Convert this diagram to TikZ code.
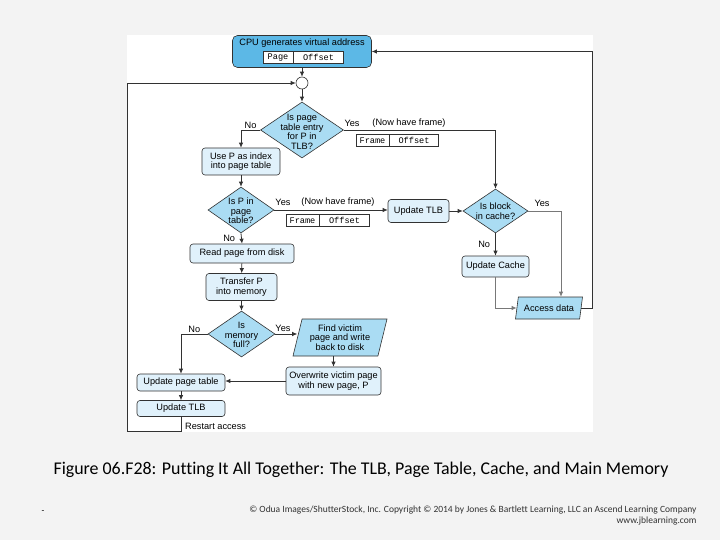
\documentclass[tikz,border=0pt]{standalone}
\usepackage{fontspec}
\setmainfont{Liberation Sans}
\setmonofont{Liberation Mono}
\newfontfamily\capfont[Ligatures=NoCommon]{Carlito}
\usetikzlibrary{positioning,arrows.meta,shapes.geometric}
\definecolor{CpuBlue}{RGB}{92,184,230}
\definecolor{DiaFill}{RGB}{170,220,243}
\definecolor{BoxFill}{RGB}{224,241,251}
\definecolor{EdgeGray}{RGB}{50,50,50}
\definecolor{SoftGray}{RGB}{120,120,120}
\definecolor{SlideBg}{RGB}{243,243,243}

\begin{document}
\begin{tikzpicture}[x=1pt,y=-1pt,
every node/.style={font=\fontsize{9.2}{9.6}\selectfont},
box/.style={rectangle,rounded corners=3pt,draw=EdgeGray,fill=BoxFill,line width=.6pt,align=center,inner sep=1pt},
dia/.style={diamond,draw=EdgeGray,fill=DiaFill,line width=.6pt,inner sep=0pt},
dtxt/.style={align=center,inner sep=0pt},
para/.style={trapezium,trapezium left angle=72,trapezium right angle=108,trapezium stretches body,draw=EdgeGray,fill=DiaFill,line width=.6pt,align=center,inner sep=1pt},
fld/.style={rectangle,draw=EdgeGray,fill=white,line width=.5pt,font=\fontsize{8.6}{9}\ttfamily,minimum height=11.5,inner sep=0pt},
lbl/.style={inner sep=1pt},
arr/.style={-{Latex[length=5pt,width=4.5pt]},line width=.8pt,draw=EdgeGray}
]
\useasboundingbox (0,0) rectangle (720,540);
\fill[SlideBg] (0,0) rectangle (720,540);
\fill[white] (127,35) rectangle (593,432);
% address from the CPU
\node[box,fill=CpuBlue,minimum width=139,minimum height=32,rounded corners=5pt] (cpu) at (302,51.5) {};
\node[lbl] (cputxt) at (302,43) {CPU generates virtual address};
\node[fld,minimum width=30] (pg) at (278,57.5) {Page};
\node[fld,minimum width=50,right=0pt of pg] (po) {Offset};
\node[circle,draw=EdgeGray,fill=white,line width=.6pt,minimum size=12,inner sep=0pt] (jn) at (302,83) {};
% TLB lookup
\node[dia,minimum width=83,minimum height=56] (tlbq) at (302,130) {};
\node[dtxt] (tlbqt) at (302,132) {Is page\\table entry\\for P in\\TLB?};
\node[fld,minimum width=33] (fr1) at (372.5,140.5) {Frame};
\node[fld,minimum width=49,right=0pt of fr1] (of1) {Offset};
\node[box,minimum width=78,minimum height=27] (usep) at (241,161.5) {Use P as index\\into page table};
% page table lookup
\node[dia,minimum width=66,minimum height=46] (ptq) at (241,210) {};
\node[dtxt] (ptqt) at (241,211) {Is P in\\page\\table?};
\node[fld,minimum width=33] (fr2) at (302.5,220.5) {Frame};
\node[fld,minimum width=50,right=0pt of fr2] (of2) {Offset};
\node[box,minimum width=61,minimum height=23] (utlb1) at (418.5,211) {Update TLB};
% cache
\node[dia,minimum width=65,minimum height=44] (cacheq) at (495.5,211) {};
\node[dtxt] (cacheqt) at (495.5,211) {Is block\\in cache?};
\node[box,minimum width=67,minimum height=21] (ucache) at (495.5,266.5) {Update Cache};
\node[para,minimum width=67,minimum height=22] (access) at (549,308) {Access data};
% page fault
\node[box,minimum width=104,minimum height=19] (rpd) at (242,253.5) {Read page from disk};
\node[box,minimum width=71,minimum height=27] (xfer) at (241.5,287) {Transfer P\\into memory};
\node[dia,minimum width=67,minimum height=46] (memq) at (241.5,334) {};
\node[dtxt] (memqt) at (241.5,335) {Is\\memory\\full?};
\node[para,minimum width=94,minimum height=37] (victim) at (340,337.5) {Find victim\\page and write\\back to disk};
\node[box,minimum width=95,minimum height=28] (over) at (333.5,381) {Overwrite victim page\\with new page, P};
\node[box,minimum width=88,minimum height=17] (upt) at (181,382.5) {Update page table};
\node[box,minimum width=88,minimum height=16] (utlb2) at (181,408.5) {Update TLB};
\node[lbl,anchor=west] (rst) at (184,426) {Restart access};
% connectors
\draw[arr] (cpu) -- (jn);
\draw[arr] (jn) -- (tlbq);
\draw[arr] (tlbq.west) -| node[lbl,pos=.25,above]{No} (usep.north);
\draw[arr] (tlbq.east) -| (cacheq.north);
\node[lbl] (yes1) at (352,123) {Yes};
\node[lbl] (nhf1) at (409,123) {(Now have frame)};
\draw[arr] (usep) -- (ptq);
\draw[arr] (ptq.east) -- (ptq.east -| utlb1.west);
\node[lbl] (yes2) at (283,202) {Yes};
\node[lbl] (nhf2) at (338,202) {(Now have frame)};
\draw[arr] (ptq.south) -- node[lbl,left=5pt]{No} (rpd.north);
\draw[arr] (rpd) -- (xfer);
\draw[arr] (xfer) -- (memq);
\draw[arr] (memq.west) -| node[lbl,pos=.25,above]{No} (upt.north);
\draw[arr] (memq.east) -- (memq.east -| victim.west);
\node[lbl] (yes4) at (283,328) {Yes};
\draw[arr] (over.north |- victim.south) -- (over.north);
\draw[arr] (over.west) -- (over.west -| upt.east);
\draw[arr] (upt) -- (utlb2);
\coordinate (lb) at (127,431);
\draw[arr] (utlb2.south) |- (lb) |- (jn.west);
\draw[arr] (utlb1) -- (cacheq);
\coordinate (yc) at (561,211);
\node[lbl] (yes3) at (542,203) {Yes};
\draw[arr,draw=SoftGray] (cacheq.east) -- (yc) -- (yc |- access.north);
\draw[arr] (cacheq) -- node[lbl,left=4pt]{No} (ucache);
\draw[arr,draw=SoftGray] (ucache.south) |- (access.west);
\coordinate (rt) at (592,51.5);
\draw[arr] (access.east) -| (rt) -- (cpu.east);
% caption and credits
\node[font=\capfont\fontsize{17.9}{19}\selectfont,anchor=base west] (cap) at (50,474.5) {Figure 06.F28: Putting It All Together: The TLB, Page Table, Cache, and Main Memory};
\node[font=\capfont\fontsize{9.5}{10}\selectfont,text=EdgeGray,anchor=base east] (cpy) at (700,512) {\textcopyright{} Odua Images/ShutterStock, Inc. Copyright \textcopyright{} 2014 by Jones \& Bartlett Learning, LLC an Ascend Learning Company};
\node[font=\capfont\fontsize{9.5}{10}\selectfont,text=EdgeGray,anchor=base east] (web) at (700,523) {www.jblearning.com};
\node[font=\capfont\fontsize{9}{10}\selectfont] (pgno) at (43,512) {-};
\end{tikzpicture}
\end{document}
